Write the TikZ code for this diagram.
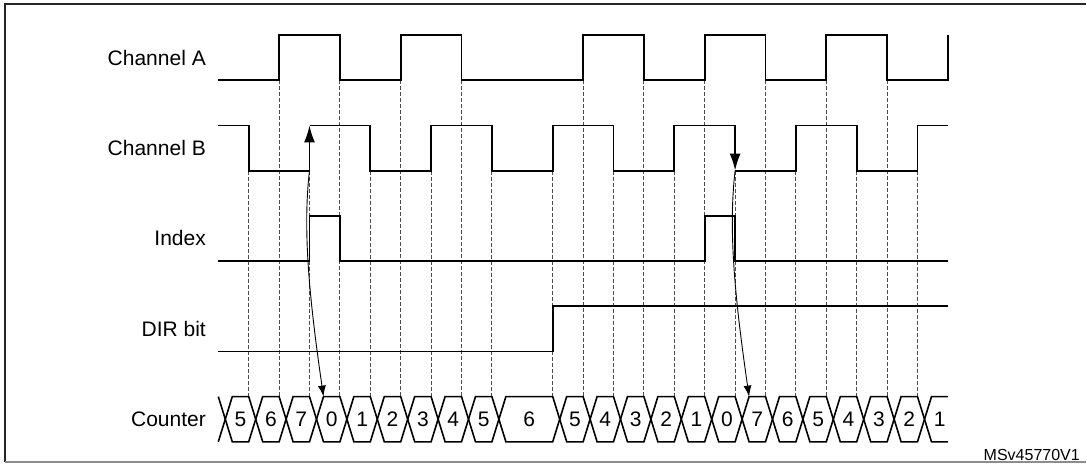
\documentclass[tikz,border=0pt]{standalone}
\usepackage{fontspec}
\setmainfont{Liberation Sans}
\usepackage{tikz}
\usetikzlibrary{arrows.meta}

\begin{document}
\begin{tikzpicture}
    \def\dx{30.4pt}
    \def\dy{45.2pt}
    \def\dc{7pt}
    \def\xl{-42.7pt}


    \tikzstyle{wave}=[line width=1.8pt,line join=miter]
    \tikzstyle{flip}=[wave,line cap=rect,-{Latex[length=17pt,width=11pt]}]
    \tikzstyle{hint}=[line width=0.9pt,-{Latex[length=11pt,width=8pt]}]
    \tikzstyle{guide}=[black!70,line width=0.9pt,dash pattern=on 4pt off 2pt]
    \tikzstyle{bus}=[line width=1.6pt,line join=miter]
    \tikzstyle{lbl}=[font=\fontsize{21}{25}\selectfont,anchor=east,inner sep=0pt]
    \tikzstyle{digit}=[font=\fontsize{21}{25}\selectfont,inner sep=0pt]
    \tikzstyle{tag}=[font=\fontsize{16}{19}\selectfont,anchor=base east,inner sep=0pt]

    \useasboundingbox (-248.7pt,35pt) rectangle (838.3pt,-429pt);
    \draw [black!85,line width=1.6pt] (837.3pt,31pt) -- (-243.7pt,31pt) -- (-243.7pt,-427pt);
    \draw [black!45,line width=1.4pt] (-243.7pt,-427pt) -- (837.3pt,-427pt);

    \node[lbl]  (chA) at (\xl,-0.5*\dy) {Channel A};
    \node[lbl]  (chB) at (\xl,-2.5*\dy) {Channel B};
    \node[lbl]  (idx) at (\xl,-4.5*\dy) {Index};
    \node[lbl]  (dir) at (\xl,-6.5*\dy) {DIR bit};
    \node[lbl]  (cnt) at (\xl,-8.5*\dy) {Counter};
    \node[tag]  (ref) at (831.3pt,-425.5pt) {MSv45770V1};

    % edges of B and A down to the counter
    \draw [guide] (0*\dx,-3*\dy) -- (0*\dx,-8*\dy) (2*\dx,-3*\dy) -- (2*\dx,-8*\dy)
          (4*\dx,-3*\dy) -- (4*\dx,-8*\dy) (6*\dx,-3*\dy) -- (6*\dx,-8*\dy)
          (8*\dx,-3*\dy) -- (8*\dx,-8*\dy) (10*\dx,-3*\dy) -- (10*\dx,-8*\dy)
          (12*\dx,-3*\dy) -- (12*\dx,-8*\dy) (14*\dx,-3*\dy) -- (14*\dx,-8*\dy)
          (16*\dx,-3*\dy) -- (16*\dx,-8*\dy) (18*\dx,-3*\dy) -- (18*\dx,-8*\dy)
          (20*\dx,-3*\dy) -- (20*\dx,-8*\dy) (22*\dx,-3*\dy) -- (22*\dx,-8*\dy);
    \draw [guide] (1*\dx,-1*\dy) -- (1*\dx,-8*\dy) (3*\dx,-1*\dy) -- (3*\dx,-8*\dy)
          (5*\dx,-1*\dy) -- (5*\dx,-8*\dy) (7*\dx,-1*\dy) -- (7*\dx,-8*\dy)
          (11*\dx,-1*\dy) -- (11*\dx,-8*\dy) (13*\dx,-1*\dy) -- (13*\dx,-8*\dy)
          (15*\dx,-1*\dy) -- (15*\dx,-8*\dy) (17*\dx,-1*\dy) -- (17*\dx,-8*\dy)
          (19*\dx,-1*\dy) -- (19*\dx,-8*\dy) (21*\dx,-1*\dy) -- (21*\dx,-8*\dy);

    \draw [wave] (-1*\dx,-1*\dy) -- (1*\dx,-1*\dy) -- (1*\dx,0*\dy) -- (3*\dx,0*\dy) -- (3*\dx,-1*\dy)
          -- (5*\dx,-1*\dy) -- (5*\dx,0*\dy) -- (7*\dx,0*\dy) -- (7*\dx,-1*\dy) -- (11*\dx,-1*\dy)
          -- (11*\dx,0*\dy) -- (13*\dx,0*\dy) -- (13*\dx,-1*\dy) -- (15*\dx,-1*\dy) -- (15*\dx,0*\dy)
          -- (17*\dx,0*\dy) -- (17*\dx,-1*\dy) -- (19*\dx,-1*\dy) -- (19*\dx,0*\dy) -- (21*\dx,0*\dy)
          -- (21*\dx,-1*\dy) -- (23*\dx,-1*\dy) -- (23*\dx,0*\dy);

    \coordinate (b0) at (2*\dx,-3*\dy);
    \coordinate (b0up) at (2*\dx,-2*\dy);
    \coordinate (b1) at (16*\dx,-2*\dy);
    \coordinate (b1dn) at (16*\dx,-3*\dy);
    \draw [wave] (-1*\dx,-2*\dy) -- (0*\dx,-2*\dy) -- (0*\dx,-3*\dy) -- (b0);
    \draw [flip] (b0) -- (b0up);
    \draw [wave] (b0up) -- (4*\dx,-2*\dy) -- (4*\dx,-3*\dy) -- (6*\dx,-3*\dy) -- (6*\dx,-2*\dy)
          -- (8*\dx,-2*\dy) -- (8*\dx,-3*\dy) -- (10*\dx,-3*\dy) -- (10*\dx,-2*\dy) -- (12*\dx,-2*\dy)
          -- (12*\dx,-3*\dy) -- (14*\dx,-3*\dy) -- (14*\dx,-2*\dy) -- (b1);
    \draw [flip] (b1) -- (b1dn);
    \draw [wave] (b1dn) -- (18*\dx,-3*\dy) -- (18*\dx,-2*\dy) -- (20*\dx,-2*\dy) -- (20*\dx,-3*\dy)
          -- (22*\dx,-3*\dy) -- (22*\dx,-2*\dy) -- (23*\dx,-2*\dy);

    \draw [wave] (-1*\dx,-5*\dy) -- (2*\dx,-5*\dy) -- (2*\dx,-4*\dy) -- (3*\dx,-4*\dy) -- (3*\dx,-5*\dy)
          -- (15*\dx,-5*\dy) -- (15*\dx,-4*\dy) -- (16*\dx,-4*\dy) -- (16*\dx,-5*\dy) -- (23*\dx,-5*\dy);

    \draw [wave] (-1*\dx,-7*\dy) -- (10*\dx,-7*\dy) -- (10*\dx,-6*\dy) -- (23*\dx,-6*\dy);

    \def\bcell#1#2#3#4{%
      \draw [bus] ({#1*\dx+\dc},-8.5*\dy) -- ({#1*\dx+2*\dc},-8*\dy) -- (#2*\dx,-8*\dy)
            -- ({#2*\dx+\dc},-8.5*\dy) -- (#2*\dx,-9*\dy) -- ({#1*\dx+2*\dc},-9*\dy) -- cycle;
      \node[digit] (#4) at ({(#1+#2)*\dx/2+\dc},-8.5*\dy) {#3};}

    \draw [bus] (-1*\dx,-8*\dy) -- ({-1*\dx+\dc},-8.5*\dy) -- (-1*\dx,-9*\dy);
    \bcell{-1}{0}{5}{n1}
    \bcell{0}{1}{6}{n2}
    \bcell{1}{2}{7}{n3}
    \bcell{2}{3}{0}{n4}
    \bcell{3}{4}{1}{n5}
    \bcell{4}{5}{2}{n6}
    \bcell{5}{6}{3}{n7}
    \bcell{6}{7}{4}{n8}
    \bcell{7}{8}{5}{n9}
    \bcell{8}{10}{6}{n10}
    \bcell{10}{11}{5}{n11}
    \bcell{11}{12}{4}{n12}
    \bcell{12}{13}{3}{n13}
    \bcell{13}{14}{2}{n14}
    \bcell{14}{15}{1}{n15}
    \bcell{15}{16}{0}{n16}
    \bcell{16}{17}{7}{n17}
    \bcell{17}{18}{6}{n18}
    \bcell{18}{19}{5}{n19}
    \bcell{19}{20}{4}{n20}
    \bcell{20}{21}{3}{n21}
    \bcell{21}{22}{2}{n22}
    \draw [bus] (23*\dx,-8*\dy) -- ({22*\dx+2*\dc},-8*\dy) -- ({22*\dx+\dc},-8.5*\dy)
          -- ({22*\dx+2*\dc},-9*\dy) -- (23*\dx,-9*\dy);
    \node[digit] (n23) at ({45*\dx/2+\dc},-8.5*\dy) {1};

    \coordinate (t0) at ({2*\dx+2*\dc},-8*\dy);
    \coordinate (t1) at ({16*\dx+2*\dc},-8*\dy);
    \draw [hint] (b0) .. controls +(-7pt,-60pt) and +(-14pt,97pt) .. (t0);
    \draw [hint] (b1dn) .. controls +(-7pt,-60pt) and +(-14pt,97pt) .. (t1);

  \end{tikzpicture}
\end{document}
